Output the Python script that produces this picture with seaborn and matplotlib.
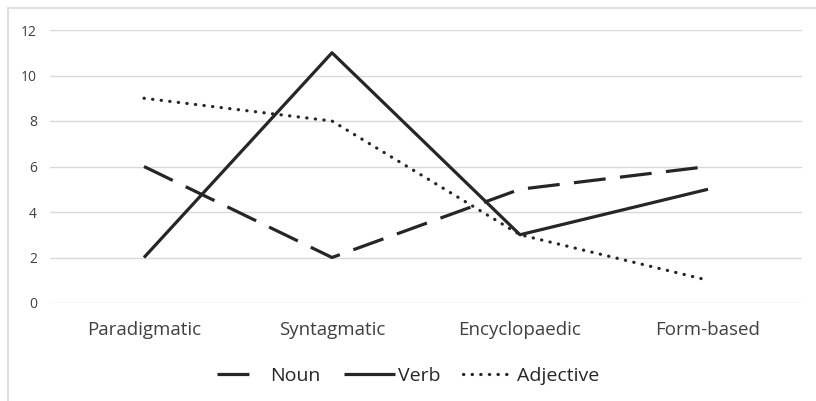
import matplotlib
matplotlib.use("Agg")
import matplotlib.pyplot as plt
import seaborn as sns
import pandas as pd
from matplotlib.patches import Rectangle
from matplotlib.lines import Line2D

categories = ["Paradigmatic", "Syntagmatic", "Encyclopaedic", "Form-based"]
noun = [6, 2, 5, 6]
verb = [2, 11, 3, 5]
adjective = [9, 8, 3, 1]
yticks = [0, 2, 4, 6, 8, 10, 12]

sns.set_theme(style="white")
plt.rcParams['font.family'] = ['Open Sans', 'DejaVu Sans']

df = pd.DataFrame({
    "x": list(range(len(categories))) * 3,
    "value": noun + verb + adjective,
    "series": ["Noun"] * 4 + ["Verb"] * 4 + ["Adjective"] * 4,
})

fig = plt.figure(figsize=(8.16, 4.01), dpi=100)
ax = fig.add_axes([50/816, 1 - 303/401, 752/816, 273/401])

col = "#262626"
sns.lineplot(data=df, x="x", y="value", hue="series", style="series",
             palette={"Noun": col, "Verb": col, "Adjective": col},
             dashes={"Noun": (10, 4.5), "Verb": "", "Adjective": (0.1, 2.6)},
             linewidth=2.3, ax=ax, legend=False, sort=False)
for line in ax.lines:
    line.set_solid_capstyle("butt")
    line.set_dash_capstyle("round")
ax.lines[0].set_dash_capstyle("butt")

ax.set_xlim(-0.5, len(categories) - 0.5)
ax.set_ylim(0, 12)
ax.set_yticks(yticks)
ax.set_yticklabels([str(v) for v in yticks], fontsize=10, color="#404040")
ax.set_xticks(range(len(categories)))
ax.set_xticklabels(categories, fontsize=13.5, color="#404040")
ax.tick_params(axis="x", length=0, pad=13)
ax.tick_params(axis="y", length=0, pad=9.4)
ax.set_xlabel("")
ax.set_ylabel("")
ax.grid(axis="y", color="#d9d9d9", linewidth=1)
ax.set_axisbelow(True)
for s in ax.spines.values():
    s.set_visible(False)

h = [Line2D([], [], color=col, lw=2.3, dashes=(10, 12), dash_capstyle="butt"),
     Line2D([], [], color=col, lw=2.3, solid_capstyle="butt"),
     Line2D([], [], color=col, lw=2.3, dashes=(0.1, 2.6), dash_capstyle="round")]
fig.legend(h, ["Noun", "Verb", "Adjective"], loc="center", bbox_to_anchor=(0.5, 1 - 376/401),
           ncol=3, frameon=False, fontsize=14, handlelength=2.6, columnspacing=1.2,
           handletextpad=0.15, labelcolor="#262626")

fig.patches.append(Rectangle((8/816, -0.1), 1, 1.1 - 8/401, transform=fig.transFigure,
                             fill=False, edgecolor="#d9d9d9", linewidth=1.2))

fig.savefig("out.png", dpi=100)
